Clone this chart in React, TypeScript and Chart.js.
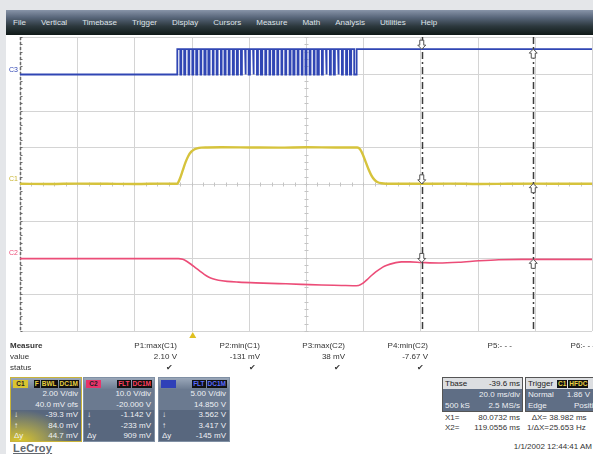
import React, { useEffect, useRef } from "react";
import { Chart, registerables } from "chart.js";
Chart.register(...registerables);

const FONT = '"Liberation Sans", Arial, sans-serif';

const MENU_ITEMS = ["File", "Vertical", "Timebase", "Trigger", "Display", "Cursors", "Measure", "Math", "Analysis", "Utilities", "Help"];

// time axis (ms): 20 ms/div, 10 div, delay -39.6 ms
const TIME_MIN = -60.4;
const TIME_MAX = 139.6;
const TIME_PER_DIV = 20;

// cursors (ms)
const CURSOR_X1 = 80.0732;
const CURSOR_X2 = 119.0556;
const TRIGGER_T = 0;

// C1 (yellow) 2.00 V/div, 40.0 mV ofs
const C1_T = [-60.4, -50, -40, -30, -20, -10, -5.5, -4.5, -3.5, -2.5, -1.5, -0.5, 0.5, 1.5, 3, 5, 10, 20, 30, 40, 50, 57.5, 58.5, 59.5, 60.5, 61.5, 62.5, 63.5, 64.5, 66, 70, 80, 90, 100, 110, 120, 130, 139.6];
const C1_V = [-0.03, -0.04, -0.02, -0.03, -0.04, -0.02, -0.03, 0.25, 0.7, 1.15, 1.5, 1.72, 1.84, 1.9, 1.94, 1.95, 1.96, 1.95, 1.94, 1.96, 1.95, 1.95, 1.85, 1.55, 1.15, 0.75, 0.42, 0.2, 0.07, 0.0, -0.03, -0.03, -0.02, -0.04, -0.03, -0.02, -0.03, -0.03];

// C2 (red) 10.0 V/div, -20.000 V ofs
const C2_T = [-60.4, -40, -20, -5, -3.5, -2, -0.5, 1, 2.5, 4, 5.5, 7, 9, 12, 16, 22, 30, 38, 45, 52, 56, 58, 59.5, 61, 62.5, 64, 65.5, 67, 69, 71, 73, 76, 80, 86, 93, 100, 107, 115, 125, 139.6];
const C2_V = [-0.3, -0.3, -0.3, -0.3, -0.5, -1.1, -1.9, -2.8, -3.7, -4.6, -5.3, -5.8, -6.2, -6.5, -6.7, -6.9, -7.1, -7.3, -7.5, -7.6, -7.67, -7.6, -7.0, -6.0, -4.9, -3.9, -3.1, -2.4, -1.8, -1.4, -1.2, -1.2, -1.35, -1.5, -1.3, -0.9, -0.6, -0.5, -0.5, -0.5];

// C3 (blue) 5.00 V/div, 14.850 V ofs — PWM burst
const C3_LOW = 0.05;
const C3_HIGH = 3.5;
const C3_PULSE_START = [-5.4, -4.0, -2.6, -1.2, 0.2, 1.6, 3.0, 4.5, 5.9, 7.3, 8.7, 10.1, 11.5, 12.9, 14.4, 15.8, 17.2, 18.6, 20.0, 21.4, 22.8, 24.3, 25.7, 27.1, 28.5, 29.9, 31.3, 32.7, 34.2, 35.6, 37.0, 38.4, 39.8, 41.2, 42.6, 44.1, 45.5, 46.9, 48.3, 49.7, 51.1, 52.5, 54.0, 55.4];
const C3_PULSE_WIDTH = [1.05, 1.0, 1.1, 1.05, 1.0, 1.1, 1.05, 0.95, 1.1, 1.05, 1.15, 1.0, 1.05, 1.1, 1.0, 1.05, 1.1, 0.95, 1.1, 1.05, 1.0, 1.05, 1.1, 0.95, 1.05, 1.1, 1.05, 1.15, 0.95, 1.05, 1.1, 1.0, 1.05, 1.1, 0.95, 1.05, 1.1, 1.05, 1.0, 1.1, 1.05, 1.1, 0.95, 1.05];
const C3_BURST_END = 57.3;

// measurements
const MEASURE_NAMES = ["P1:max(C1)", "P2:min(C1)", "P3:max(C2)", "P4:min(C2)", "P5:- - -", "P6:- - -"];
const MEASURE_VALUES = ["2.10 V", "-131 mV", "38 mV", "-7.67 V", "", ""];
const MEASURE_OK = [true, true, true, true, false, false];

// channel descriptors
const CH_NAMES = ["C1", "C2", "C3"];
const CH_TAGS = [["F", "BWL", "DC1M"], ["FLT", "DC1M"], ["FLT", "DC1M"]];
const CH_VDIV = ["2.00 V/div", "10.0 V/div", "5.00 V/div"];
const CH_OFS = ["40.0 mV ofs", "-20.000 V", "14.850 V"];
const CH_Y1 = ["-39.3 mV", "-1.142 V", "3.562 V"];
const CH_Y2 = ["84.0 mV", "-233 mV", "3.417 V"];
const CH_DY = ["44.7 mV", "909 mV", "-145 mV"];
const CH_COLORS = ["#d8c431", "#e8336a", "#2f40b8"];
const CH_TAG_TEXT = ["#e8d040", "#ff4060", "#5a6cff"];

const C1_COLOR = "#d6c33c";
const C2_COLOR = "#ec4d78";
const C3_COLOR = "#3046b4";

function interp(ts: number[], vs: number[], t: number) {
  for (let i = 0; i < ts.length - 1; i++) {
    if (t >= ts[i] && t <= ts[i + 1]) {
      const f = (t - ts[i]) / (ts[i + 1] - ts[i]);
      return vs[i] + f * (vs[i + 1] - vs[i]);
    }
  }
  return vs[vs.length - 1];
}

function c3At(t: number) {
  if (t >= C3_BURST_END) return C3_HIGH;
  return C3_LOW;
}

function drawArrow(ctx: CanvasRenderingContext2D, x: number, tip: number, dir: number) {
  ctx.save();
  ctx.beginPath();
  ctx.moveTo(x, tip);
  ctx.lineTo(x - 4, tip - dir * 4);
  ctx.lineTo(x - 2, tip - dir * 4);
  ctx.lineTo(x - 2, tip - dir * 9);
  ctx.lineTo(x + 2, tip - dir * 9);
  ctx.lineTo(x + 2, tip - dir * 4);
  ctx.lineTo(x + 4, tip - dir * 4);
  ctx.closePath();
  ctx.fillStyle = "#ffffff";
  ctx.fill();
  ctx.strokeStyle = "#555";
  ctx.lineWidth = 1;
  ctx.stroke();
  ctx.restore();
}

const scopePlugin = {
  id: "scope",
  beforeDatasetsDraw(chart: any) {
    const { ctx, chartArea } = chart;
    const xs = chart.scales.x;
    const yd = chart.scales.yDiv;
    ctx.save();
    ctx.strokeStyle = "#d4d4d4";
    ctx.lineWidth = 1;
    for (let i = 0; i <= 10; i++) {
      const x = Math.round(xs.getPixelForValue(TIME_MIN + i * TIME_PER_DIV)) + 0.5;
      ctx.beginPath();
      ctx.moveTo(x, chartArea.top);
      ctx.lineTo(x, chartArea.bottom);
      ctx.stroke();
    }
    for (let j = -4; j <= 4; j++) {
      const y = Math.round(yd.getPixelForValue(j)) + 0.5;
      ctx.beginPath();
      ctx.moveTo(chartArea.left, y);
      ctx.lineTo(chartArea.right, y);
      ctx.stroke();
    }
    ctx.strokeStyle = "#c4c4c4";
    const cy = Math.round(yd.getPixelForValue(0)) + 0.5;
    const cx = Math.round(xs.getPixelForValue(TIME_MIN + 5 * TIME_PER_DIV)) + 0.5;
    for (let k = 0; k <= 50; k++) {
      const x = Math.round(xs.getPixelForValue(TIME_MIN + k * TIME_PER_DIV / 5)) + 0.5;
      ctx.beginPath();
      ctx.moveTo(x, cy - 2);
      ctx.lineTo(x, cy + 2);
      ctx.stroke();
    }
    for (let k = -20; k <= 20; k++) {
      const y = Math.round(yd.getPixelForValue(k / 5)) + 0.5;
      ctx.beginPath();
      ctx.moveTo(cx - 2, y);
      ctx.lineTo(cx + 2, y);
      ctx.stroke();
    }
    const lx = Math.round(chartArea.left) + 0.5;
    ctx.strokeStyle = "#6a6a6a";
    ctx.lineWidth = 1.5;
    ctx.setLineDash([3, 2]);
    ctx.beginPath();
    ctx.moveTo(lx, chartArea.top);
    ctx.lineTo(lx, chartArea.bottom);
    ctx.stroke();
    ctx.setLineDash([]);
    ctx.lineWidth = 1;
    for (let k = -20; k <= 20; k++) {
      const y = Math.round(yd.getPixelForValue(k / 5)) + 0.5;
      ctx.beginPath();
      ctx.moveTo(lx, y);
      ctx.lineTo(lx + 2, y);
      ctx.stroke();
    }
    ctx.restore();
  },
  afterDatasetsDraw(chart: any) {
    const { ctx, chartArea } = chart;
    const xs = chart.scales.x;
    const y1 = chart.scales.yC1;
    const y2 = chart.scales.yC2;
    const y3 = chart.scales.yC3;
    ctx.save();
    [CURSOR_X1, CURSOR_X2].forEach((t) => {
      const x = Math.round(xs.getPixelForValue(t)) + 0.5;
      ctx.strokeStyle = "#3c3c3c";
      ctx.lineWidth = 1.5;
      ctx.setLineDash([7, 3, 2, 3]);
      ctx.beginPath();
      ctx.moveTo(x, chartArea.top);
      ctx.lineTo(x, chartArea.bottom);
      ctx.stroke();
    });
    ctx.setLineDash([]);
    [[CURSOR_X1, 1], [CURSOR_X2, -1]].forEach(([t, dir]) => {
      const x = xs.getPixelForValue(t);
      drawArrow(ctx, x, y3.getPixelForValue(c3At(t)), dir);
      drawArrow(ctx, x, y1.getPixelForValue(interp(C1_T, C1_V, t)), dir);
      drawArrow(ctx, x, y2.getPixelForValue(interp(C2_T, C2_V, t)), dir);
    });
    const tx = xs.getPixelForValue(TRIGGER_T);
    const by = chartArea.bottom + 1;
    ctx.beginPath();
    ctx.moveTo(tx, by);
    ctx.lineTo(tx - 3.5, by + 6);
    ctx.lineTo(tx + 3.5, by + 6);
    ctx.closePath();
    ctx.fillStyle = "#e0c020";
    ctx.fill();
    ctx.font = "7px " + FONT;
    ctx.textBaseline = "bottom";
    ctx.textAlign = "left";
    ctx.fillStyle = C3_COLOR;
    ctx.fillText("C3", 3, y3.getPixelForValue(C3_LOW) - 1);
    ctx.fillStyle = "#c8b430";
    ctx.fillText("C1", 3, y1.getPixelForValue(0) - 1);
    ctx.fillStyle = C2_COLOR;
    ctx.fillText("C2", 3, y2.getPixelForValue(0) - 1);
    ctx.restore();
  },
};

function ScopeChart() {
  const ref = useRef<HTMLCanvasElement>(null);
  useEffect(() => {
    const c1 = C1_T.map((t, i) => ({ x: t, y: C1_V[i] }));
    const c2 = C2_T.map((t, i) => ({ x: t, y: C2_V[i] }));
    const c3: { x: number; y: number }[] = [{ x: TIME_MIN, y: C3_LOW }];
    C3_PULSE_START.forEach((s, i) => {
      const e = s + C3_PULSE_WIDTH[i];
      c3.push({ x: s, y: C3_LOW }, { x: s, y: C3_HIGH }, { x: e, y: C3_HIGH }, { x: e, y: C3_LOW });
    });
    c3.push({ x: C3_BURST_END, y: C3_LOW }, { x: C3_BURST_END, y: C3_HIGH }, { x: TIME_MAX, y: C3_HIGH });

    const chart = new Chart(ref.current!, {
      type: "line",
      data: {
        datasets: [
          { label: "C3", data: c3, yAxisID: "yC3", borderColor: C3_COLOR, borderWidth: 1.8, pointRadius: 0, tension: 0 },
          { label: "C1", data: c1, yAxisID: "yC1", borderColor: C1_COLOR, borderWidth: 2.4, pointRadius: 0, cubicInterpolationMode: "monotone" },
          { label: "C2", data: c2, yAxisID: "yC2", borderColor: C2_COLOR, borderWidth: 1.6, pointRadius: 0, cubicInterpolationMode: "monotone" },
        ] as any,
      },
      options: {
        responsive: false,
        animation: false,
        devicePixelRatio: 1,
        layout: { padding: { left: 14, right: 1, top: 2, bottom: 10 } },
        plugins: { legend: { display: false }, tooltip: { enabled: false } },
        events: [],
        scales: {
          x: { type: "linear", min: TIME_MIN, max: TIME_MAX, display: false },
          yDiv: { type: "linear", min: -4, max: 4, display: false },
          yC1: { type: "linear", min: -8.04, max: 7.96, display: false },
          yC2: { type: "linear", min: -20, max: 60, display: false },
          yC3: { type: "linear", min: -34.85, max: 5.15, display: false },
        },
      } as any,
      plugins: [scopePlugin],
    });
    return () => chart.destroy();
  }, []);
  return <canvas ref={ref} width={587} height={306} style={{ position: "absolute", left: 6, top: 35, width: 587, height: 306 }} />;
}

function Tag({ text, color }: { text: string; color: string }) {
  return (
    <span style={{ background: "#111", color, padding: "0 1px", marginLeft: 1, fontSize: 6.5, lineHeight: "8px", fontWeight: 700 }}>{text}</span>
  );
}

function ChannelBox({ idx, left }: { idx: number; left: number }) {
  const sel = idx === 0;
  const row = (l: string, r: string) => (
    <div style={{ display: "flex", justifyContent: "space-between", height: 10.6, lineHeight: "10.6px", padding: "0 3px" }}>
      <span>{l}</span>
      <span>{r}</span>
    </div>
  );
  return (
    <div style={{ position: "absolute", left, top: 377, width: 72, height: 65, boxSizing: "border-box", border: sel ? "1px solid #c9b43a" : "1px solid #8090a4", overflow: "hidden", fontSize: 8, color: "#eef0f4" }}>
      <div style={{ height: 11, background: "linear-gradient(#9aa7b9, #6e7d93)", display: "flex", alignItems: "center", justifyContent: "space-between", padding: "0 2px" }}>
        <span style={{ display: "inline-block", background: CH_COLORS[idx], color: "#222", fontSize: 6.5, height: 8, lineHeight: "8px", width: 15, textAlign: "center", fontWeight: 700 }}>{idx === 2 ? "" : CH_NAMES[idx]}</span>
        <span style={{ display: "flex" }}>
          {CH_TAGS[idx].map((t) => (
            <Tag key={t} text={t} color={CH_TAG_TEXT[idx]} />
          ))}
        </span>
      </div>
      <div style={{ background: "#6b7a90", height: 21 }}>
        <div style={{ textAlign: "right", padding: "0 3px", lineHeight: "10.5px" }}>{CH_VDIV[idx]}</div>
        <div style={{ textAlign: "right", padding: "0 3px", lineHeight: "10.5px" }}>{CH_OFS[idx]}</div>
      </div>
      <div
        style={{
          height: 32,
          background: sel
            ? "radial-gradient(ellipse 75% 100% at 12% 100%, rgba(222,200,40,1) 0%, rgba(200,185,60,0.65) 45%, rgba(88,102,124,0) 100%), #58677e"
            : "#58677e",
        }}
      >
        {row("↓", CH_Y1[idx])}
        {row("↑", CH_Y2[idx])}
        {row("Δy", CH_DY[idx])}
      </div>
    </div>
  );
}

export default function App() {
  const measureRight = [177, 260, 345, 428, 512, 595];
  return (
    <div style={{ position: "fixed", left: 0, top: 0, width: 593, height: 454, background: "#e4e6e9", overflow: "hidden", fontFamily: FONT }}>
      <div style={{ position: "absolute", left: 6, top: 10, width: 587, height: 444, background: "#ffffff" }} />
      <div
        style={{
          position: "absolute", left: 6, top: 10, width: 587, height: 25,
          background: "linear-gradient(to bottom, #8894a8 0%, #58667a 30%, #2c383d 65%, #101a18 100%)",
          display: "flex", alignItems: "center", paddingLeft: 7, gap: 15, boxSizing: "border-box",
          color: "#dfe3e8", fontSize: 8,
        }}
      >
        {MENU_ITEMS.map((m) => (
          <span key={m}>{m}</span>
        ))}
      </div>
      <ScopeChart />
      <div style={{ position: "absolute", left: 10, top: 340, fontSize: 8, lineHeight: "11px", color: "#333" }}>
        <div style={{ fontWeight: 700 }}>Measure</div>
        <div>value</div>
        <div>status</div>
      </div>
      {MEASURE_NAMES.map((n, i) => (
        <div key={n} style={{ position: "absolute", left: measureRight[i] - 80, width: 80, top: 340, textAlign: "right", fontSize: 8, lineHeight: "11px", color: "#333" }}>
          <div>{n}</div>
          <div>{MEASURE_VALUES[i] || "\u00a0"}</div>
          <div style={{ paddingRight: 4, fontSize: 8 }}>{MEASURE_OK[i] ? "✔" : "\u00a0"}</div>
        </div>
      ))}
      <ChannelBox idx={0} left={10} />
      <ChannelBox idx={1} left={83} />
      <ChannelBox idx={2} left={158} />
      <div style={{ position: "absolute", left: 13, top: 442, fontSize: 11, fontWeight: 700, color: "#62676e", textDecoration: "underline", letterSpacing: 0.2 }}>LeCroy</div>
      <div style={{ position: "absolute", left: 442, top: 377, width: 81, height: 35, border: "1px solid #555", boxSizing: "border-box", fontSize: 8, overflow: "hidden" }}>
        <div style={{ background: "#dcdee1", color: "#222", display: "flex", justifyContent: "space-between", padding: "0 2px", height: 11, lineHeight: "11px" }}>
          <span>Tbase</span><span>-39.6 ms</span>
        </div>
        <div style={{ background: "#5f6e85", color: "#eef0f4", height: 22 }}>
          <div style={{ textAlign: "right", padding: "0 2px", lineHeight: "11px" }}>20.0 ms/div</div>
          <div style={{ display: "flex", justifyContent: "space-between", padding: "0 2px", lineHeight: "11px" }}>
            <span>500 kS</span><span>2.5 MS/s</span>
          </div>
        </div>
      </div>
      <div style={{ position: "absolute", left: 525, top: 377, width: 80, height: 35, border: "1px solid #555", boxSizing: "border-box", fontSize: 8, overflow: "hidden" }}>
        <div style={{ background: "#dcdee1", color: "#222", display: "flex", alignItems: "center", padding: "0 2px", height: 11, lineHeight: "11px" }}>
          <span>Trigger</span>
          <span style={{ marginLeft: 4, background: "#111", color: "#e8d040", fontSize: 6.5, lineHeight: "8px", padding: "0 1px", fontWeight: 700 }}>C1</span>
          <span style={{ marginLeft: 1, background: "#111", color: "#e8d040", fontSize: 6.5, lineHeight: "8px", padding: "0 1px", fontWeight: 700 }}>HFDC</span>
        </div>
        <div style={{ background: "#5f6e85", color: "#eef0f4", height: 22 }}>
          <div style={{ display: "flex", justifyContent: "space-between", padding: "0 14px 0 2px", lineHeight: "11px" }}>
            <span>Normal</span><span>1.86 V</span>
          </div>
          <div style={{ display: "flex", justifyContent: "space-between", padding: "0 2px", lineHeight: "11px" }}>
            <span>Edge</span><span>Positive</span>
          </div>
        </div>
      </div>
      <div style={{ position: "absolute", left: 445, top: 413, width: 75, fontSize: 8, lineHeight: "9.5px", color: "#333" }}>
        <div style={{ display: "flex", justifyContent: "space-between" }}><span>X1=</span><span>80.0732 ms</span></div>
        <div style={{ display: "flex", justifyContent: "space-between" }}><span>X2=</span><span>119.0556 ms</span></div>
      </div>
      <div style={{ position: "absolute", left: 527, top: 413, width: 80, fontSize: 8, lineHeight: "9.5px", color: "#333", whiteSpace: "nowrap" }}>
        <div><span style={{ display: "inline-block", width: 20, textAlign: "right" }}>ΔX=</span> 38.982 ms</div>
        <div><span style={{ display: "inline-block", width: 20, textAlign: "right" }}>1/ΔX=</span> 25.653 Hz</div>
      </div>
      <div style={{ position: "absolute", right: 1, top: 442, fontSize: 8, color: "#333" }}>1/1/2002 12:44:41 AM</div>
    </div>
  );
}
